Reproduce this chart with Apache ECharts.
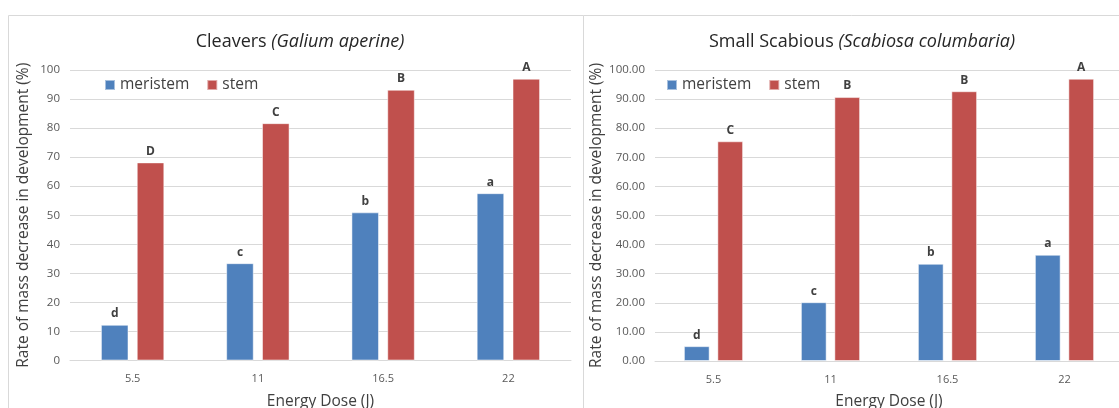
<!DOCTYPE html>
<html>
<head>
<meta charset="utf-8">
<script src="https://cdn.jsdelivr.net/npm/echarts@6/dist/echarts.min.js"></script>
<style>
  html, body { margin: 0; padding: 0; background: #fff; }
  #chart { width: 1119px; height: 408px; }
</style>
</head>
<body>
<div id="chart"></div>
<script>
const doses = ['5.5', '11', '16.5', '22']

// Cleavers (Galium aperine)
const cleaversMeristem = [12.3, 33.5, 51, 57.6]
const cleaversStem = [68.2, 81.7, 93.2, 97]
const cleaversMeristemLetters = ['d', 'c', 'b', 'a']
const cleaversStemLetters = ['D', 'C', 'B', 'A']

// Small Scabious (Scabiosa columbaria)
const scabiousMeristem = [5.1, 20.2, 33.4, 36.5]
const scabiousStem = [75.5, 90.7, 92.7, 97]
const scabiousMeristemLetters = ['d', 'c', 'b', 'a']
const scabiousStemLetters = ['C', 'B', 'B', 'A']

const BLUE = '#4f81bd'
const RED = '#c0504d'
const GRID_LINE = '#d9d9d9'
const TEXT = '#595959'
const FONT = "'Open Sans', 'Noto Sans', sans-serif"

function yAxis(gridIndex, decimals, nameGap) {
  return {
    type: 'value',
    gridIndex,
    min: 0,
    max: 100,
    interval: 10,
    name: 'Rate of mass decrease in development (%)',
    nameLocation: 'middle',
    nameGap,
    nameTextStyle: { color: '#404040', fontSize: 15.5, fontFamily: FONT },
    axisLine: { show: false },
    axisTick: { show: false },
    axisLabel: {
      color: TEXT,
      fontSize: 11.5,
      fontFamily: FONT,
      margin: 10,
      formatter: (v) => v.toFixed(decimals),
    },
    splitLine: { lineStyle: { color: GRID_LINE, width: 1 } },
  }
}

function xAxis(gridIndex) {
  return {
    type: 'category',
    gridIndex,
    data: doses,
    name: 'Energy Dose (J)',
    nameLocation: 'middle',
    nameGap: 33,
    nameTextStyle: { color: '#404040', fontSize: 15.5, fontFamily: FONT },
    axisLine: { lineStyle: { color: GRID_LINE } },
    axisTick: { show: false },
    axisLabel: { color: TEXT, fontSize: 11, fontFamily: FONT, margin: 13 },
  }
}

function barSeries(name, data, letters, color, idx) {
  return {
    name,
    type: 'bar',
    xAxisIndex: idx,
    yAxisIndex: idx,
    data,
    barWidth: '22%',
    barGap: '30%',
    itemStyle: { color, borderColor: 'rgba(255,255,255,0.5)', borderWidth: 1 },
    label: {
      show: true,
      position: 'top',
      distance: 5,
      color: '#404040',
      fontSize: 12,
      fontWeight: 'bold',
      fontFamily: FONT,
      formatter: (p) => letters[p.dataIndex],
    },
  }
}

function legend(left) {
  return {
    left,
    top: 72,
    icon: 'rect',
    itemWidth: 10,
    itemHeight: 10,
    itemGap: 17,
    textStyle: { color: '#404040', fontSize: 15.5, fontFamily: FONT },
    data: ['meristem', 'stem'],
  }
}

function title(left, common, italic) {
  return {
    left,
    top: 28,
    textAlign: 'center',
    text: `{n|${common} }{i|(${italic})}`,
    textStyle: {
      fontWeight: 'normal',
      rich: {
        n: { fontSize: 18, color: '#262626', fontWeight: 'normal', fontFamily: FONT },
        i: { fontSize: 18, color: '#262626', fontWeight: 'normal', fontStyle: 'italic', fontFamily: FONT },
      },
    },
  }
}

const chart = echarts.init(document.getElementById('chart'), null, { renderer: 'canvas' })

chart.setOption({
  animation: false,
  graphic: [
    { type: 'rect', shape: { x: 8.5, y: 15.5, width: 575, height: 430 }, style: { fill: 'none', stroke: GRID_LINE, lineWidth: 1 }, z: -10 },
    { type: 'rect', shape: { x: 583.5, y: 15.5, width: 600, height: 430 }, style: { fill: '#fff', stroke: GRID_LINE, lineWidth: 1 }, z: -9 },
  ],
  title: [
    title(295, 'Cleavers', 'Galium aperine'),
    title(857, 'Small Scabious', 'Scabiosa columbaria'),
  ],
  legend: [legend(99), legend(661)],
  grid: [
    { left: 70, top: 70, width: 501, height: 290.5, outerBoundsMode: 'none', containLabel: false },
    { left: 655, top: 70, width: 468, height: 291, outerBoundsMode: 'none', containLabel: false },
  ],
  xAxis: [xAxis(0), xAxis(1)],
  yAxis: [yAxis(0, 0, 38), yAxis(1, 2, 50)],
  series: [
    barSeries('meristem', cleaversMeristem, cleaversMeristemLetters, BLUE, 0),
    barSeries('stem', cleaversStem, cleaversStemLetters, RED, 0),
    barSeries('meristem', scabiousMeristem, scabiousMeristemLetters, BLUE, 1),
    barSeries('stem', scabiousStem, scabiousStemLetters, RED, 1),
  ],
})
</script>
</body>
</html>
